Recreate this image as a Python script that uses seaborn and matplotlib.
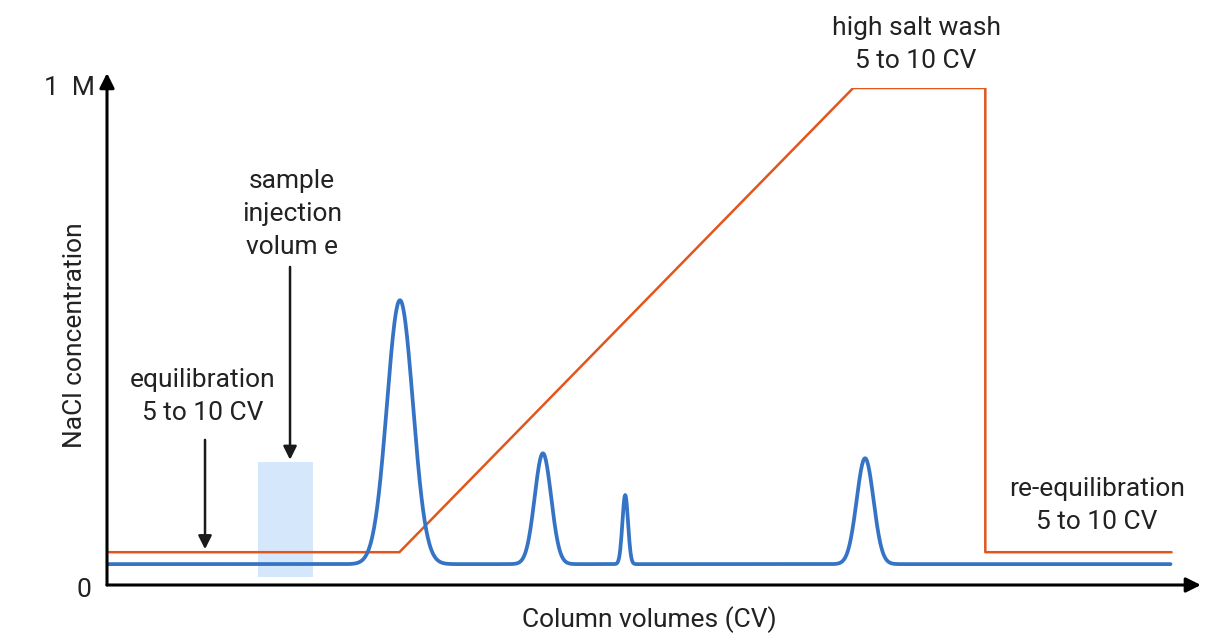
import numpy as np
import pandas as pd
import matplotlib
matplotlib.use("Agg")
import matplotlib.pyplot as plt
import seaborn as sns

# salt gradient (x in % of run length, y in M)
salt_x = [0.0, 27.0, 68.9, 81.1, 81.1, 98.3]
salt_y = [0.066, 0.066, 1.0, 1.0, 0.066, 0.066]

# chromatogram: baseline plus peaks
uv_start, uv_end = 0.0, 98.2
uv_baseline = 0.042
peak_center = [27.05, 40.25, 47.85, 70.0]
peak_height = [0.531, 0.223, 0.139, 0.213]
peak_width = [1.2, 0.76, 0.26, 0.78]

# sample injection band
inject_x = [13.9, 19.0]
inject_y = [0.016, 0.247]

TEXT = "#222222"
ORANGE = "#e2561c"
BLUE = "#3573c5"

sns.set_theme(style="white")
plt.rcParams["font.family"] = ["Roboto", "DejaVu Sans"]

fig = plt.figure(figsize=(12.11, 6.41), dpi=100)
ax = fig.add_axes([107 / 1211, 56 / 641, 1083 / 1211, 497 / 641])
ax.set_xlim(0, 100)
ax.set_ylim(0, 1)

xs = np.linspace(uv_start, uv_end, 2000)
uv = np.full_like(xs, uv_baseline)
for c, h, w in zip(peak_center, peak_height, peak_width):
    uv += h * np.exp(-0.5 * ((xs - c) / w) ** 2)
uv_df = pd.DataFrame({"cv": xs, "abs": uv})
salt_df = pd.DataFrame({"cv": salt_x, "conc": salt_y})

ax.axvspan(inject_x[0], inject_x[1], ymin=inject_y[0], ymax=inject_y[1],
           color="#d5e7fb", lw=0, zorder=1)
sns.lineplot(data=salt_df, x="cv", y="conc", ax=ax, color=ORANGE, lw=1.8,
             sort=False, estimator=None, zorder=2)
sns.lineplot(data=uv_df, x="cv", y="abs", ax=ax, color=BLUE, lw=2.7,
             sort=False, estimator=None, zorder=3)

for s in ax.spines.values():
    s.set_visible(False)
ax.set_xticks([])
ax.set_yticks([])
ax.set_xlabel("")
ax.set_ylabel("")

# axes with arrow heads
arrow = dict(arrowstyle="-|>", color="black", lw=2.2, mutation_scale=22,
             shrinkA=0, shrinkB=0)
ax.annotate("", xy=(0, 1.03), xytext=(0, 0), xycoords="data",
            arrowprops=arrow, annotation_clip=False)
ax.annotate("", xy=(101.0, 0), xytext=(0, 0), xycoords="data",
            arrowprops=arrow, annotation_clip=False)

fs = 19
ls = 1.47
ax.text(-1.1, 1.0, "1  M", ha="right", va="center", fontsize=fs, color=TEXT)
ax.text(-1.4, -0.01, "0", ha="right", va="center", fontsize=fs, color=TEXT)
ax.text(-2.95, 0.503, "NaCl concentration", rotation=90, ha="center",
        va="center", fontsize=fs, color=TEXT)
ax.text(50.1, -0.07, "Column volumes (CV)", ha="center", va="center",
        fontsize=fs, color=TEXT)

# annotations
small = dict(arrowstyle="-|>", color="#1a1a1a", lw=1.8, mutation_scale=20,
             shrinkA=0, shrinkB=0)
ax.text(8.86, 0.379, "equilibration\n5 to 10 CV", ha="center", va="center",
        fontsize=fs, color=TEXT, linespacing=ls)
ax.annotate("", xy=(9.05, 0.072), xytext=(9.05, 0.292), arrowprops=small)
ax.text(17.08, 0.746, "sample\ninjection\nvolum e", ha="center", va="center",
        fontsize=fs, color=TEXT, linespacing=ls)
ax.annotate("", xy=(16.9, 0.252), xytext=(16.9, 0.64), arrowprops=small)
ax.text(74.7, 1.087, "high salt wash\n5 to 10 CV", ha="center", va="center",
        fontsize=fs, color=TEXT, linespacing=ls)
ax.text(91.4, 0.16, "re-equilibration\n5 to 10 CV", ha="center",
        va="center", fontsize=fs, color=TEXT, linespacing=ls)

fig.savefig("out.png", dpi=100)
